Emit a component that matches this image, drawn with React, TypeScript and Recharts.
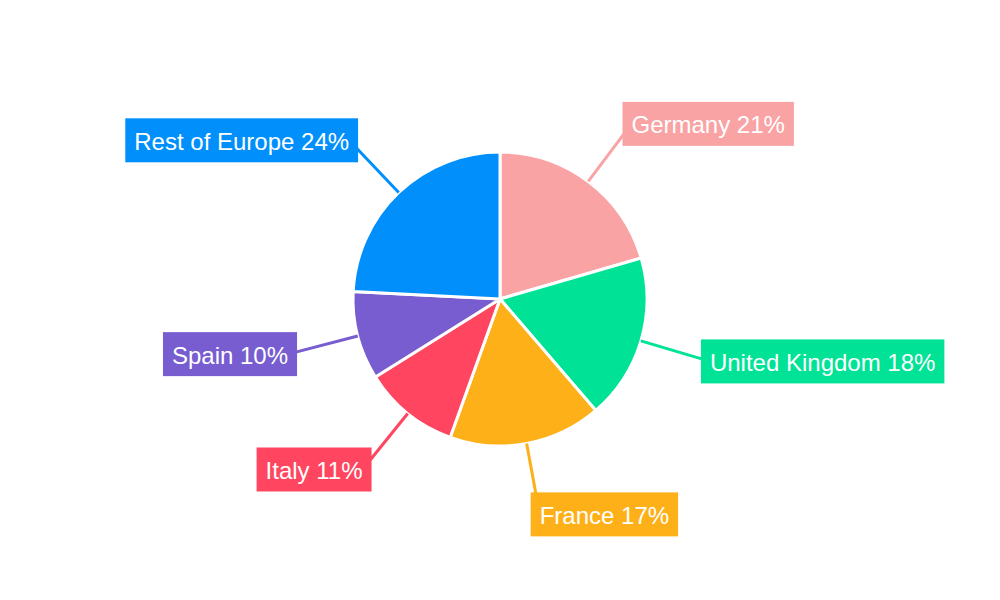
import React from 'react';
import { PieChart, Pie, Cell } from 'recharts';

const countries = ['Germany', 'United Kingdom', 'France', 'Italy', 'Spain', 'Rest of Europe'];
const shares = [20.5, 18.2, 16.8, 10.6, 9.7, 24.2];
const colors = ['#F9A3A4', '#00E396', '#FEB019', '#FF4560', '#775DD0', '#008FFB'];

const data = countries.map((name, i) => ({ name, value: shares[i] }));

const FONT = '24px "Liberation Sans", Arial, sans-serif';
const RAD = Math.PI / 180;
const PAD = 9;

// text width via canvas, rough fallback if canvas isn't there
function textWidth(s: string): number {
  try {
    const ctx = document.createElement('canvas').getContext('2d');
    if (ctx) {
      ctx.font = FONT;
      return ctx.measureText(s).width;
    }
  } catch (e) {}
  return s.length * 12.5;
}

function BoxLabel(props: any) {
  const { cx, cy, midAngle, outerRadius, percent, name, index } = props;
  const color = colors[index % colors.length];
  const cos = Math.cos(-midAngle * RAD);
  const sin = Math.sin(-midAngle * RAD);
  const sx = cx + outerRadius * cos;
  const sy = cy + outerRadius * sin;
  // label anchor sits ~72px outside the pie, the box is drawn over the line end
  const ax = cx + (outerRadius + 72) * cos;
  const ay = cy + (outerRadius + 72) * sin;
  const text = `${name} ${Math.round(percent * 100)}%`;
  const tw = textWidth(text);
  const w = tw + PAD * 2;
  const h = 44;
  const right = ax >= cx;
  const bx = right ? ax - PAD : ax + PAD - w;
  const by = ay - h / 2;
  return (
    <g>
      <line x1={sx} y1={sy} x2={ax} y2={ay} stroke={color} strokeWidth={3} />
      <rect x={bx} y={by} width={w} height={h} fill={color} />
      <text
        x={bx + PAD}
        y={ay + 1}
        fill="#fff"
        fontSize={24}
        fontFamily='"Liberation Sans", Arial, sans-serif'
        dominantBaseline="central"
      >
        {text}
      </text>
    </g>
  );
}

export default function App() {
  return (
    <div style={{ position: 'absolute', left: 0, top: 0, width: 1000, height: 600, background: '#fff' }}>
      <PieChart width={1000} height={600} margin={{ top: 0, right: 0, bottom: 0, left: 0 }}>
        <Pie
          data={data}
          dataKey="value"
          nameKey="name"
          cx={500}
          cy={299}
          outerRadius={147}
          startAngle={90}
          endAngle={-270}
          stroke="#fff"
          strokeWidth={3}
          label={BoxLabel}
          labelLine={false}
          isAnimationActive={false}
        >
          {data.map((d, i) => (
            <Cell key={d.name} fill={colors[i]} />
          ))}
        </Pie>
      </PieChart>
    </div>
  );
}
